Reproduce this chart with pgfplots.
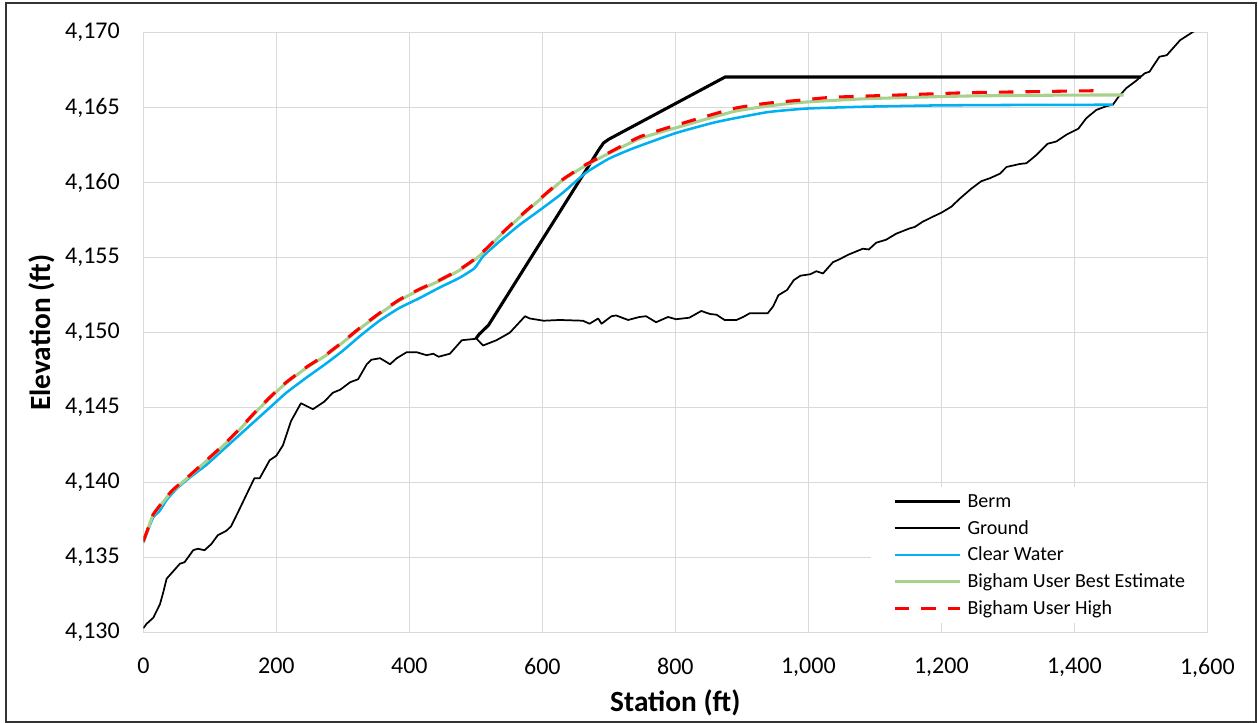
\documentclass[border=0pt]{standalone}
\usepackage{fontspec}
\setmainfont{Carlito}
\usepackage{pgfplots}
\pgfplotsset{compat=1.18}
\definecolor{gridc}{HTML}{D9D9D9}
\definecolor{clearblue}{HTML}{00B0F0}
\definecolor{bestgreen}{HTML}{A9D18E}
\definecolor{highred}{HTML}{FF0000}
\begin{document}
\begin{tikzpicture}
\useasboundingbox (0,0) rectangle (943.5pt,542.25pt);
\draw[black!80, line width=1.5pt] (4.5pt,0.75pt) rectangle (942pt,540pt);
\begin{axis}[
    at={(107.5pt,67.7pt)}, anchor=south west,
    scale only axis, width=798pt, height=450pt,
    xmin=0, xmax=1600, ymin=4130, ymax=4170,
    xtick={0,200,...,1600}, ytick={4130,4135,...,4170},
    scaled ticks=false,
    /pgf/number format/.cd, fixed, precision=0, 1000 sep={,}, assume math mode=true,
    /pgfplots/.cd,
    grid=major, grid style={draw=gridc, line width=0.9pt},
    axis line style={draw=gridc, line width=0.9pt},
    major tick length=0pt,
    tick label style={font=\fontsize{18}{21}\selectfont},
    yticklabel style={inner sep=0pt, xshift=-17.5pt},
    xticklabel style={inner sep=0pt, yshift=-19pt},
    xlabel={Station (ft)}, ylabel={Elevation (ft)},
    label style={font=\fontsize{22}{26}\selectfont\bfseries},
    xlabel style={at={(axis description cs:0.5,-0.1305)}, anchor=base},
    ylabel style={at={(axis description cs:-0.0877,0.5)}, anchor=base},
    legend cell align=left,
    legend image code/.code={\draw[#1] (0pt,0pt) -- (49pt,0pt); \path (53.5pt,0pt);},
    legend style={at={(rel axis cs:0.684,0.2428)}, anchor=north west,
        draw=none, fill=white, inner xsep=16.3pt, inner ysep=3.2pt,
        font=\fontsize{15}{18}\selectfont,
        nodes={inner sep=0pt, text height=12pt, text depth=3pt},
        row sep=5pt},
]
% Berm
\addplot[black, line width=2.3pt, line join=round] coordinates {
(500,4149.6)(505,4149.9)(519,4150.5)(685,4162.2)(692,4162.65)(700,4162.9)(875,4167.05)(1500,4167.05)
};
\addlegendentry{Berm}
% Ground
\addplot[black, line width=1.3pt, line join=round] coordinates {
(0,4130.3)(5,4130.6)(15,4131.0)(25,4131.9)(30,4132.7)(35,4133.6)(45,4134.1)(55,4134.6)(62,4134.7)
(75,4135.5)(82,4135.6)(92,4135.5)(102,4135.9)(112,4136.5)(125,4136.8)(132,4137.1)(142,4138.0)
(155,4139.2)(167,4140.3)(175,4140.3)(190,4141.5)(200,4141.8)(210,4142.5)(222,4144.1)(237,4145.3)
(255,4144.9)(272,4145.4)(285,4146.0)(296,4146.2)(311,4146.7)(323,4146.9)(336,4147.9)(343,4148.2)
(356,4148.3)(371,4147.9)(381,4148.3)(396,4148.7)(411,4148.7)(426,4148.5)(436,4148.6)(444,4148.4)
(461,4148.6)(479,4149.5)(501,4149.6)(511,4149.15)(531,4149.5)(551,4150.0)(574,4151.1)(581,4150.95)
(602,4150.8)(626,4150.85)(661,4150.8)(671,4150.6)(684,4150.95)(689,4150.6)(704,4151.1)(711,4151.15)
(729,4150.85)(746,4151.05)(756,4151.1)(771,4150.7)(789,4151.05)(801,4150.9)(821,4151.0)(839,4151.45)
(852,4151.25)(862,4151.2)(874,4150.85)(892,4150.85)(902,4151.05)(912,4151.3)(927,4151.3)(939,4151.3)
(947,4151.75)(955,4152.5)(968,4152.85)(978,4153.5)(988,4153.8)(1003,4153.9)(1012,4154.1)(1022,4153.95)
(1037,4154.7)(1047,4154.9)(1060,4155.2)(1082,4155.6)(1091,4155.55)(1102,4156.0)(1117,4156.2)(1132,4156.6)
(1152,4156.95)(1160,4157.05)(1172,4157.4)(1188,4157.75)(1200,4158.0)(1215,4158.4)(1228,4158.95)(1245,4159.6)
(1260,4160.1)(1273,4160.3)(1288,4160.6)(1298,4161.05)(1318,4161.25)(1328,4161.3)(1343,4161.85)(1360,4162.6)
(1373,4162.75)(1388,4163.2)(1406,4163.6)(1418,4164.3)(1433,4164.85)(1448,4165.1)(1458,4165.2)(1466,4165.7)
(1478,4166.3)(1493,4166.8)(1506,4167.3)(1513,4167.4)(1528,4168.4)(1539,4168.5)(1559,4169.5)(1580,4170.1)
};
\addlegendentry{Ground}
% Clear Water
\addplot[clearblue, line width=1.9pt, smooth, tension=0.3] coordinates {
(0,4136.0)(7.5,4136.9)(15,4137.7)(25,4138.15)(35,4138.85)(50,4139.6)(70,4140.35)(95,4141.2)(120,4142.2)
(145,4143.2)(170,4144.2)(195,4145.2)(215,4146.0)(245,4147.0)(275,4147.95)(300,4148.8)(325,4149.75)
(355,4150.8)(385,4151.65)(415,4152.3)(445,4153.0)(475,4153.65)(498,4154.3)(511,4155.1)(536,4156.1)
(566,4157.2)(597,4158.2)(630,4159.3)(665,4160.65)(700,4161.6)(737,4162.3)(800,4163.3)(862,4164.05)
(938,4164.7)(1000,4164.95)(1087,4165.07)(1187,4165.15)(1288,4165.18)(1458,4165.2)
};
\addlegendentry{Clear Water}
% Bigham User Best Estimate
\addplot[bestgreen, line width=2.3pt, smooth, tension=0.3] coordinates {
(0,4136.05)(7.5,4137.0)(15,4137.85)(35,4139.0)(45,4139.5)(70,4140.45)(95,4141.45)(120,4142.45)
(145,4143.55)(170,4144.75)(195,4145.85)(215,4146.65)(245,4147.65)(275,4148.5)(300,4149.35)(325,4150.25)
(355,4151.25)(385,4152.15)(415,4152.85)(445,4153.45)(475,4154.15)(498,4154.85)(511,4155.35)(536,4156.45)
(566,4157.7)(597,4158.9)(630,4160.15)(665,4161.15)(700,4161.95)(747,4162.95)(800,4163.65)(888,4164.75)
(938,4165.1)(987,4165.35)(1087,4165.6)(1238,4165.78)(1388,4165.84)(1474,4165.85)
};
\addlegendentry{Bigham User Best Estimate}
% Bigham User High
\addplot[highred, line width=2.3pt, dash pattern=on 11pt off 9pt, smooth, tension=0.3] coordinates {
(0,4136.1)(7.5,4137.0)(15,4137.9)(35,4139.05)(45,4139.55)(70,4140.5)(95,4141.5)(120,4142.5)
(145,4143.6)(170,4144.8)(195,4145.9)(215,4146.7)(245,4147.7)(275,4148.55)(300,4149.4)(325,4150.3)
(355,4151.3)(385,4152.2)(415,4152.9)(445,4153.5)(475,4154.2)(498,4154.9)(511,4155.4)(536,4156.5)
(566,4157.75)(597,4158.95)(630,4160.2)(665,4161.2)(700,4162.0)(747,4163.07)(802,4163.85)(888,4164.95)
(938,4165.3)(987,4165.5)(1037,4165.7)(1137,4165.85)(1238,4166.0)(1338,4166.07)(1428,4166.13)(1446,4166.05)
};
\addlegendentry{Bigham User High}
\end{axis}
\end{tikzpicture}
\end{document}
